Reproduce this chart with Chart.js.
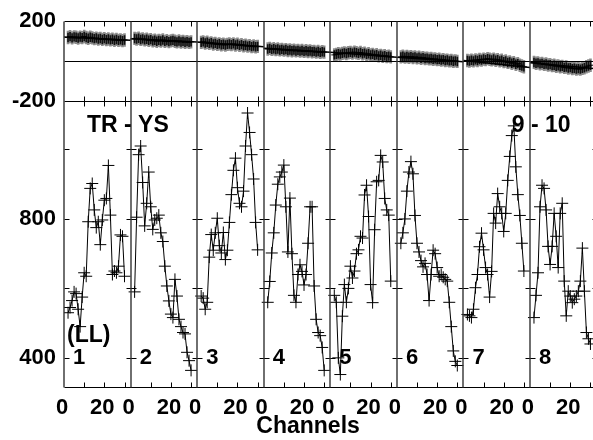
<!DOCTYPE html>
<html>
<head>
<meta charset="utf-8">
<script src="https://cdn.jsdelivr.net/npm/chart.js@4.4.1/dist/chart.umd.min.js"></script>
<style>
  html, body { margin: 0; padding: 0; background: #fff; overflow: hidden; }
  canvas { display: block; }
</style>
</head>
<body>
<canvas id="chart" width="616" height="440"></canvas>
<script>
// each sub-panel spans 33 channels; values are read at channels 2..30
const SPAN = 33;
const CHANNELS = [2, 3, 4, 5, 6, 7, 8, 9, 10, 11, 12, 13, 14, 15, 16, 17, 18, 19, 20, 21, 22, 23, 24, 25, 26, 27, 28, 29, 30];
const PANEL_NAMES = ["1", "2", "3", "4", "5", "6", "7", "8"];
const X_LABEL_CH = [0, 20];
const X_TITLE = "Channels";
const X_TITLE_AT = 121; // channel under the centre of the axis title

// lower panel: spectra
const flux1 = [530, 545, 565, 590, 585, 540, 490, 575, 645, 635, 792, 888, 902, 826, 775, 792, 726, 797, 854, 859, 954, 811, 640, 650, 645, 664, 754, 750, 635];
const flux2 = [590, 805, 985, 1010, 905, 780, 845, 935, 835, 770, 797, 802, 811, 760, 735, 664, 607, 564, 526, 516, 626, 578, 511, 490, 473, 469, 416, 392, 364];
const flux3 = [578, 572, 540, 560, 690, 755, 710, 760, 802, 723, 702, 761, 683, 710, 790, 870, 940, 975, 890, 845, 835, 880, 1010, 1105, 1049, 985, 915, 790, 711];
const flux4 = [560, 620, 702, 760, 840, 900, 921, 935, 955, 835, 705, 860, 700, 580, 560, 640, 668, 649, 610, 640, 730, 835, 835, 607, 511, 473, 464, 430, 364];
const flux5 = [580, 560, 400, 352, 520, 611, 560, 600, 664, 630, 650, 700, 711, 750, 745, 869, 897, 807, 611, 559, 769, 907, 911, 983, 964, 859, 826, 811, 621];
const flux6 = [730, 760, 800, 880, 935, 965, 930, 810, 730, 705, 680, 662, 672, 640, 565, 640, 710, 700, 660, 635, 640, 632, 626, 621, 560, 490, 420, 390, 378];
const flux7 = [525, 521, 516, 540, 602, 640, 720, 759, 711, 660, 640, 575, 649, 816, 788, 873, 835, 816, 764, 816, 911, 980, 1040, 1068, 950, 870, 810, 730, 650];
const flux8 = [516, 580, 645, 835, 897, 888, 826, 721, 669, 721, 816, 750, 660, 816, 845, 621, 521, 592, 578, 559, 569, 578, 592, 621, 716, 592, 473, 455, 440];
const FLUX = [flux1, flux2, flux3, flux4, flux5, flux6, flux7, flux8];

// upper panel: residuals
const resid1 = [118, 122, 116, 121, 119, 115, 120, 117, 123, 118, 114, 119, 116, 112, 115, 110, 113, 108, 112, 107, 110, 106, 109, 104, 108, 103, 106, 102, 105];
const resid2 = [113, 110, 114, 108, 111, 106, 109, 104, 107, 101, 104, 99, 103, 100, 105, 98, 102, 97, 101, 103, 99, 96, 100, 95, 98, 94, 97, 93, 96];
const resid3 = [93, 96, 90, 94, 88, 91, 85, 88, 83, 86, 81, 84, 80, 83, 85, 82, 86, 80, 84, 78, 82, 76, 79, 74, 77, 72, 75, 71, 73];
const resid4 = [60, 63, 58, 61, 57, 60, 55, 58, 54, 57, 52, 55, 51, 54, 50, 53, 49, 52, 48, 51, 47, 50, 46, 48, 44, 47, 43, 46, 44];
const resid5 = [30, 33, 36, 34, 38, 40, 37, 41, 43, 39, 44, 41, 38, 42, 36, 39, 33, 36, 30, 33, 28, 31, 25, 28, 23, 26, 21, 24, 20];
const resid6 = [20, 23, 19, 22, 18, 21, 17, 20, 15, 18, 13, 16, 12, 14, 10, 12, 8, 10, 6, 8, 4, 6, 2, 4, 0, 2, -2, 0, -3];
const resid7 = [2, -1, 3, 0, 5, 2, 7, 4, 9, 6, 11, 8, 5, 9, 3, 6, 0, 3, -4, -1, -8, -5, -12, -9, -17, -14, -22, -26, -30];
const resid8 = [-8, -12, -10, -15, -13, -18, -16, -21, -19, -24, -22, -27, -25, -30, -28, -33, -31, -36, -34, -39, -37, -41, -39, -42, -38, -35, -30, -26, -22];
const RESID = [resid1, resid2, resid3, resid4, resid5, resid6, resid7, resid8];
const ERR_GREY = 32;
const ERR_BLACK = 22;

// straight fit through the residuals of each panel
const FIT_START = [120, 112, 95, 63, 43, 18, 2, -10];
const FIT_END = [104, 95, 71, 44, 18, -4, -33, -40];

const NOTES = [
  { text: "TR - YS", ch: 11.4, v: 1069 },
  { text: "9 - 10", ch: 222, v: 1069 },
  { text: "(LL)", ch: 1.5, v: 465 },
];

const FONT = "'Liberation Sans', Arial, Helvetica, sans-serif";

function spread(rows, fn) {
  const out = [];
  rows.forEach((vals, p) => {
    vals.forEach((v, i) => out.push(fn(p * SPAN + CHANNELS[i], v)));
    out.push({ x: p * SPAN + SPAN - 0.5, y: null });
  });
  return out;
}

const fluxPts = spread(FLUX, (x, v) => ({ x, y: v }));
const residPts = spread(RESID, (x, v) => ({ x, y: v })).filter(d => d.y !== null);
const greyBars = residPts.map(d => ({ x: d.x, y: [d.y - ERR_GREY, d.y + ERR_GREY] }));
const blackBars = residPts.map(d => ({ x: d.x, y: [d.y - ERR_BLACK, d.y + ERR_BLACK] }));
const fitPts = [];
FIT_START.forEach((s, p) => {
  fitPts.push({ x: p * SPAN, y: s }, { x: (p + 1) * SPAN, y: FIT_END[p] }, { x: (p + 1) * SPAN, y: null });
});

function seg(ctx, x1, y1, x2, y2) {
  ctx.beginPath();
  ctx.moveTo(x1, y1);
  ctx.lineTo(x2, y2);
  ctx.stroke();
}

const framePlugin = {
  id: "frame",
  afterDatasetsDraw(chart) {
    const { ctx, scales } = chart;
    const x = scales.x, y = scales.y, yTop = scales.yTop;
    const px = v => Math.round(x.getPixelForValue(v)) + 0.5;
    const py = (s, v) => Math.round(s.getPixelForValue(v)) + 0.5;
    const left = px(0), right = px(SPAN * 8);
    const top = Math.round(yTop.top) + 0.5, mid = Math.round(yTop.bottom) + 0.5, bottom = Math.round(y.bottom) + 0.5;
    ctx.save();
    ctx.strokeStyle = "#000";
    ctx.lineWidth = 1;
    [top, mid, bottom, py(yTop, 0)].forEach(h => seg(ctx, left, h, right, h));
    for (let p = 0; p < 8; p++) {
      [10, 20, 30].forEach(c => {
        const t = px(p * SPAN + c);
        seg(ctx, t, top, t, top + 5);
        seg(ctx, t, mid - 5, t, mid + 5);
        seg(ctx, t, bottom - 5, t, bottom);
      });
    }
    [400, 600, 800, 1000].forEach(v => {
      const h = py(y, v);
      for (let p = 0; p <= 8; p++) {
        const t = px(p * SPAN);
        seg(ctx, p === 0 ? t : t - 5, h, t + 5, h);
      }
    });
    ctx.strokeStyle = "#333";
    ctx.lineWidth = 1.4;
    for (let p = 0; p <= 8; p++) {
      const t = Math.round(x.getPixelForValue(p * SPAN));
      seg(ctx, t, top, t, bottom);
    }
    ctx.restore();
  },
  afterDraw(chart) {
    const { ctx, scales } = chart;
    ctx.save();
    ctx.fillStyle = "#000";
    ctx.textBaseline = "middle";
    ctx.textAlign = "left";
    ctx.font = "bold 23px " + FONT;
    NOTES.forEach(n => ctx.fillText(n.text, scales.x.getPixelForValue(n.ch), scales.y.getPixelForValue(n.v)));
    ctx.font = "bold 22px " + FONT;
    PANEL_NAMES.forEach((name, p) => {
      ctx.fillText(name, scales.x.getPixelForValue(p * SPAN + 4.5), scales.y.getPixelForValue(400));
    });
    ctx.textAlign = "center";
    ctx.font = "bold 23px " + FONT;
    ctx.fillText(X_TITLE, scales.x.getPixelForValue(X_TITLE_AT), scales.x.bottom - 13);
    ctx.restore();
  },
};

const tickFont = { family: FONT, size: 22, weight: "bold" };
const noGrid = { display: false, drawTicks: false, tickLength: 0 };

new Chart(document.getElementById("chart"), {
  type: "line",
  data: {
    datasets: [
      {
        type: "line", data: fitPts, xAxisID: "x", yAxisID: "yTop",
        borderColor: "#000", borderWidth: 1.5, pointRadius: 0, spanGaps: false, order: 0,
      },
      {
        type: "line", data: fluxPts, xAxisID: "x", yAxisID: "y",
        borderColor: "#000", borderWidth: 1, tension: 0, spanGaps: false,
        pointStyle: "cross", pointRadius: 6, pointBorderWidth: 1, pointBorderColor: "#000", order: 1,
      },
      {
        type: "line", data: residPts, xAxisID: "x", yAxisID: "yTop", showLine: false,
        pointStyle: "line", pointRadius: 3, pointBorderWidth: 1, pointBorderColor: "#000", order: 2,
      },
      {
        type: "bar", data: blackBars, xAxisID: "x", yAxisID: "yTop",
        backgroundColor: "#111", barThickness: 1, grouped: false, order: 3,
      },
      {
        type: "bar", data: greyBars, xAxisID: "x", yAxisID: "yTop",
        backgroundColor: "#8c8c8c", barThickness: 2, grouped: false, order: 4,
      },
    ],
  },
  options: {
    responsive: false,
    animation: false,
    layout: { padding: { left: 0, right: 19.5, top: 18, bottom: 0 } },
    plugins: {
      legend: { display: false },
      tooltip: { enabled: false },
    },
    scales: {
      x: {
        type: "linear", min: 0, max: SPAN * 8, offset: false,
        grid: noGrid, border: { display: false },
        afterBuildTicks: s => { s.ticks = PANEL_NAMES.flatMap((_, p) => X_LABEL_CH.map(c => ({ value: p * SPAN + c }))); },
        afterFit: s => { s.height = 53.3; },
        ticks: {
          autoSkip: false, maxRotation: 0, padding: 8, labelOffset: -2, color: "#000", font: tickFont,
          callback: v => String(Math.round(v % SPAN)),
        },
      },
      y: {
        type: "linear", position: "left", stack: "v", stackWeight: 3.609, min: 317, max: 1141,
        grid: noGrid, border: { display: false },
        afterBuildTicks: s => { s.ticks = [400, 800].map(v => ({ value: v })); },
        afterFit: s => { s.width = 64; },
        ticks: { padding: 8, color: "#000", font: tickFont },
      },
      yTop: {
        type: "linear", position: "left", stack: "v", stackWeight: 1, min: -200, max: 200,
        grid: noGrid, border: { display: false },
        afterBuildTicks: s => { s.ticks = [-200, 200].map(v => ({ value: v })); },
        afterFit: s => { s.width = 64; },
        ticks: { padding: 8, color: "#000", font: tickFont },
      },
    },
  },
  plugins: [framePlugin],
});
</script>
</body>
</html>
